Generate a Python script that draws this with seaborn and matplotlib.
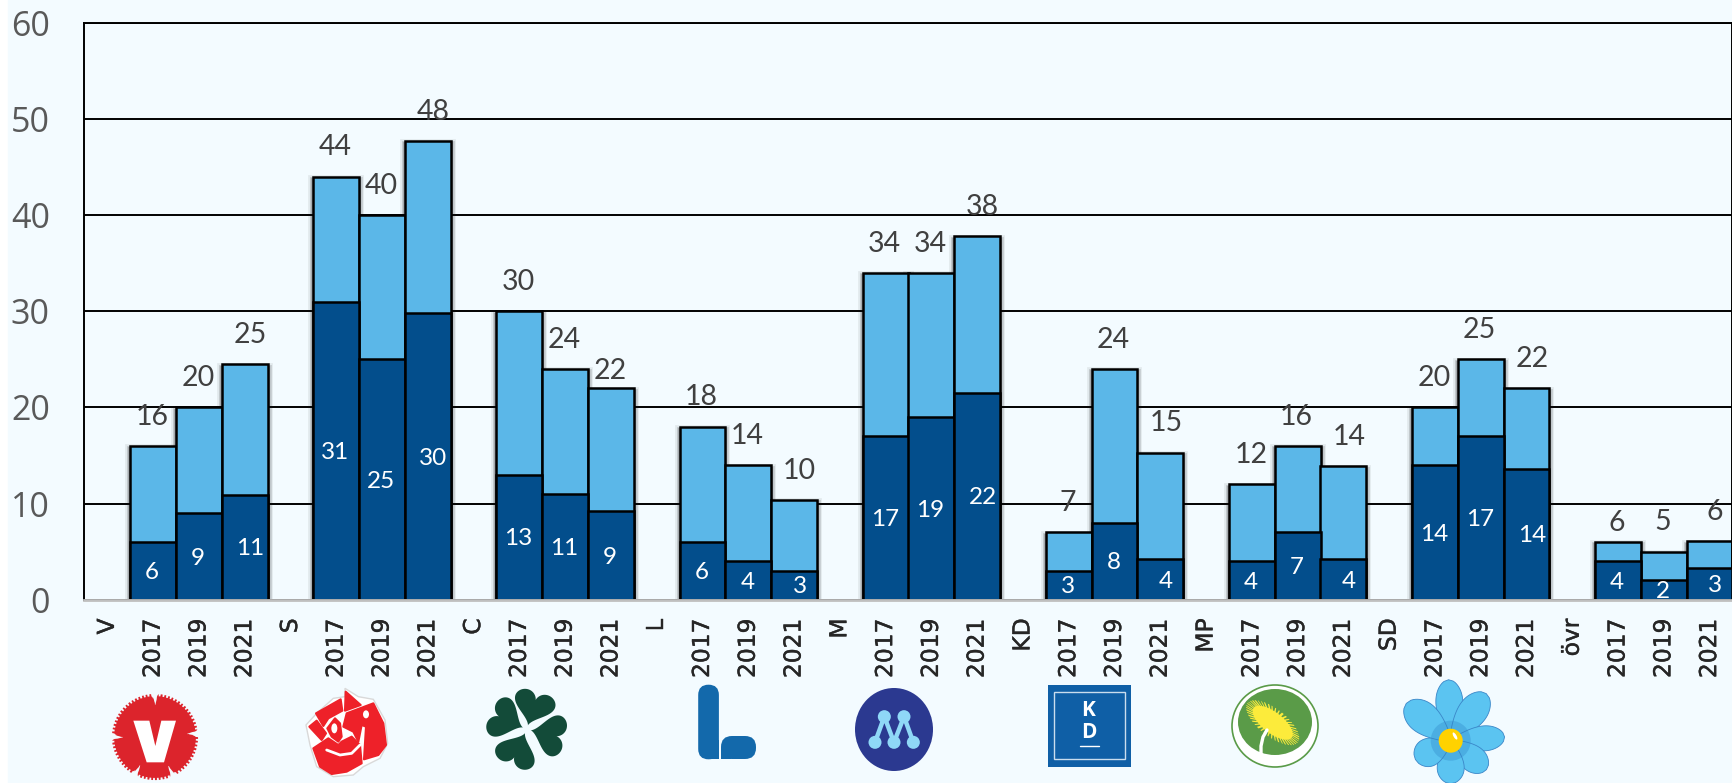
import numpy as np
import pandas as pd
import seaborn as sns
import matplotlib
matplotlib.use("Agg")
import matplotlib.pyplot as plt
import matplotlib.patheffects as pe
from matplotlib.patches import Rectangle, Polygon, Circle, Ellipse, FancyBboxPatch

# data
parties = ["V", "S", "C", "L", "M", "KD", "MP", "SD", "övr"]
years = ["2017", "2019", "2021"]
total_values = [16, 20, 24.5, 44, 40, 47.7, 30, 24, 22, 18, 14, 10.4, 34, 34, 37.8,
                7, 24, 15.3, 12, 16, 13.9, 20, 25, 22, 6, 5, 6.1]
dark_values = [6, 9, 10.9, 31, 25, 29.8, 13, 11, 9.2, 6, 4, 3, 17, 19, 21.5,
               3, 8, 4.2, 4, 7, 4.2, 14, 17, 13.6, 4, 2, 3.3]
total_labels = [16, 20, 25, 44, 40, 48, 30, 24, 22, 18, 14, 10, 34, 34, 38,
                7, 24, 15, 12, 16, 14, 20, 25, 22, 6, 5, 6]
dark_labels = [6, 9, 11, 31, 25, 30, 13, 11, 9, 6, 4, 3, 17, 19, 22,
               3, 8, 4, 4, 7, 4, 14, 17, 14, 4, 2, 3]
y_ticks = [0, 10, 20, 30, 40, 50, 60]

BG = "#F3FBFF"
LIGHT = "#5BB7E8"
DARK = "#034E8C"

sns.set_theme(style="white")
plt.rcParams["font.family"] = ["DejaVu Sans"]

# one slot for the party name and three for its years
tick_labels = []
slots = []
for p in parties:
    tick_labels += [p] + years
    slots += [len(tick_labels) - 3, len(tick_labels) - 2, len(tick_labels) - 1]
all_slots = list(range(len(tick_labels)))
df = pd.DataFrame({"slot": slots, "total": total_values, "dark": dark_values})

fig = plt.figure(figsize=(17.33, 7.83), dpi=100, facecolor="white")
fig.patches.append(Rectangle((8 / 1733, 0), 1, 1, transform=fig.transFigure, color=BG, zorder=-5))

ax = fig.add_axes([84.5 / 1733, 1 - 599.7 / 783, 1648 / 1733, 577 / 783])
ax.set_facecolor(BG)

# shadow layer under the bars, only shows at the sides
sns.barplot(data=df, x="slot", y="total", order=all_slots, color=LIGHT, saturation=1,
            width=1, errorbar=None, ax=ax, zorder=1)
for bar in ax.patches:
    bar.set_path_effects([pe.Stroke(offset=(0, -2.5), linewidth=7, foreground="k", alpha=0.08),
                          pe.Stroke(offset=(0, -2.5), linewidth=5, foreground="k", alpha=0.12),
                          pe.Stroke(offset=(0, -2.5), linewidth=3.2, foreground="k", alpha=0.2)])
sns.barplot(data=df, x="slot", y="total", order=all_slots, color=LIGHT, saturation=1, width=1,
            errorbar=None, edgecolor="black", linewidth=1.8, ax=ax, zorder=2)
sns.barplot(data=df, x="slot", y="dark", order=all_slots, color=DARK, saturation=1, width=1,
            errorbar=None, edgecolor="black", linewidth=1.8, ax=ax, zorder=3)

ax.set_xlim(-0.5, len(all_slots) - 0.5)
ax.set_ylim(0, 60)
ax.set_xlabel("")
ax.set_ylabel("")
ax.set_axisbelow(True)
ax.yaxis.grid(True, color="black", linewidth=1.4)
ax.xaxis.grid(False)
for name in ["top", "left", "right"]:
    ax.spines[name].set_color("black")
    ax.spines[name].set_linewidth(1.4)
ax.spines["bottom"].set_color("#BFBFBF")
ax.spines["bottom"].set_linewidth(2)
ax.spines["bottom"].set_zorder(6)

ax.set_yticks(y_ticks)
ax.set_yticklabels(y_ticks, fontsize=24.5, color="#595959", fontfamily="Open Sans")
ax.set_xticks(all_slots)
ax.set_xticklabels(tick_labels, rotation=90, fontsize=16.8, color="#262626", va="top", ha="center")
for lab in ax.get_xticklabels():
    lab.set_path_effects([pe.withStroke(linewidth=0.3, foreground="#262626")])
ax.tick_params(axis="y", length=0, pad=25)
ax.tick_params(axis="x", length=0, pad=13.5)

# labels, the 2021 ones sit a bit to the right in the original
for i, s in enumerate(slots):
    dx = 4 if i % 3 == 2 else -0.7
    dy = 21
    if i == 8:  # 22 for C 2021 is pushed down and not shifted
        dx, dy = -0.7, 12
    if i == 24:  # first övr label
        dy = 13.5
    ax.annotate(str(total_labels[i]), (s, total_values[i]), xytext=(dx, dy), textcoords="offset points",
                ha="center", va="center", fontsize=20.5, color="#404040", fontfamily="Lato", zorder=7)
    ax.annotate(str(dark_labels[i]), (s, dark_values[i] / 2), xytext=(dx, -1.2), textcoords="offset points",
                ha="center", va="center", fontsize=17.5, color="white", fontfamily="Lato", zorder=7)

# party logos, pixel coordinates of the picture
lg = fig.add_axes([0, 0, 1, 1], zorder=10)
lg.set_xlim(0, 1733)
lg.set_ylim(783, 0)
lg.axis("off")
lg.patch.set_alpha(0)


def zoomed(points, ox, oy):
    return [(ox + x / 3, oy + y / 3) for x, y in points]


# V carnation
red = "#DC242C"
t = np.linspace(0, 2 * np.pi, 1441)
r = 42 + 1.1 * np.sign(np.sin(70 * t))
for a in [-90, -5, 65, 118, 180]:
    d = np.angle(np.exp(1j * (t - np.radians(a))))
    r = r - 9 * np.exp(-(d / 0.045) ** 2)
lg.add_patch(Polygon(np.c_[155 + r * np.cos(t), 737 + r * np.sin(t)], color=red, lw=0))
lg.add_patch(Polygon(zoomed([(130, 152), (178, 152), (196, 228), (214, 152), (258, 152),
                             (222, 277), (170, 277)], 90, 670), color="white", lw=0))

# S rose
rose = "#EE2129"
lg.add_patch(Polygon(zoomed([(765, 55), (805, 80), (850, 88), (885, 150), (893, 220), (870, 265), (820, 290),
                             (790, 315), (730, 320), (680, 290), (660, 225), (648, 165), (680, 130),
                             (730, 85), (765, 80)], 90, 670), fc="white", ec="#D9D9D9", lw=1))
for piece in [[(678, 130), (752, 88), (757, 122), (715, 145), (700, 168)],
              [(767, 65), (812, 105), (765, 122)],
              [(770, 130), (850, 100), (880, 160), (888, 225), (865, 255), (822, 268), (828, 170), (815, 165),
               (805, 215), (790, 185), (760, 170)],
              [(658, 170), (680, 152), (708, 190), (695, 210)],
              [(670, 235), (715, 205), (745, 225), (755, 215), (785, 200), (810, 225), (815, 280), (770, 305),
               (725, 312), (690, 290)],
              [(712, 175), (735, 145), (750, 160), (755, 200), (745, 215), (725, 200)]]:
    lg.add_patch(Polygon(zoomed(piece, 90, 670), fc=rose, ec=rose, lw=1.5, joinstyle="round"))
lg.add_patch(Ellipse((90 + 733 / 3, 670 + 175 / 3), 6, 10, color="white", lw=0))
lg.add_patch(Ellipse((90 + 828 / 3, 670 + 133 / 3), 6, 8, color="white", lw=0))
xs, ys = zip(*zoomed([(710, 240), (750, 255), (785, 250), (810, 225)], 90, 670))
lg.plot(xs, ys, color="white", lw=2)

# C clover
t = np.linspace(0, 2 * np.pi, 200)
hx = 16 * np.sin(t) ** 3 * 1.3
hy = (13 * np.cos(t) - 5 * np.cos(2 * t) - 2 * np.cos(3 * t) - np.cos(4 * t) + 17) * 1.2 + 4
for a in [17, 103, 204, 295]:
    c, s = np.cos(np.radians(a)), np.sin(np.radians(a))
    lg.add_patch(Polygon(np.c_[526.7 + hx * c + hy * s, 729.3 + hx * s - hy * c], color="#134B39", lw=0))

# L
blue = "#1369AB"
lg.add_patch(FancyBboxPatch((708.5, 695), 0.1, 54, boxstyle="round,pad=10.3", color=blue, lw=0))
lg.add_patch(Rectangle((710, 740), 9, 19, color=blue, lw=0))
lg.add_patch(FancyBboxPatch((732, 747), 13, 1, boxstyle="round,pad=11", color=blue, lw=0))
lg.add_patch(Rectangle((721, 748), 10, 11, color=blue, lw=0))

# M
lg.add_patch(Ellipse((894, 729.5), 78, 83, color="#2B3990", lw=0))
mx, my = zip(*zoomed([(135, 217), (163, 140), (192, 217), (222, 140), (250, 217)], 830, 670))
lg.plot(mx, my, color="#8FD8F7", lw=3.2)
for x, y in zip(mx, my):
    lg.add_patch(Circle((x, y), 6.5, color="#8FD8F7", lw=0))

# KD
lg.add_patch(Rectangle((1048, 685), 83, 82, color="#0F5FA6", lw=0))
lg.add_patch(Rectangle((1054, 691.5), 71.5, 67.5, fc="none", ec="#C9DDEE", lw=1))
lg.text(1088.5, 711, "K", color="white", fontsize=15, fontweight="bold", fontfamily="Open Sans", ha="center", va="center")
lg.text(1089, 732, "D", color="white", fontsize=15, fontweight="bold", fontfamily="Open Sans", ha="center", va="center")
lg.plot([1080, 1099], [746, 746], color="white", lw=1)

# MP
lg.add_patch(Ellipse((1275, 726), 86, 82, fc="white", ec="#5A9B48", lw=1.2))
lg.add_patch(Ellipse((1275, 722), 74, 66, color="#5A9B48", lw=0))
t = np.linspace(0, 2 * np.pi, 361)
rr = 1 + 0.14 * np.sign(np.sin(45 * t))
ex = 28 * rr * np.cos(t)
ey = 12 * rr * np.sin(t)
ang = np.radians(38)
lg.add_patch(Polygon(np.c_[1272.7 + ex * np.cos(ang) - ey * np.sin(ang), 722.7 + ex * np.sin(ang) + ey * np.cos(ang)],
                     color="#FCEB3B", lw=0))
lg.plot([1267, 1263, 1261, 1261], [730, 737, 746, 755], color="white", lw=2.4)

# SD flower
petal_angles = [92, 53, 4, -39, -90, 208, 140]
petal_lengths = [61, 59, 54, 46, 43, 40, 58]
petal_widths = [27, 29, 25, 26, 27, 28, 31]
u = np.linspace(0, 1, 40)
for a, ln, w in zip(petal_angles, petal_lengths, petal_widths):
    side = w / 2 * np.sin(np.pi * u ** 1.5) ** 0.5
    lx = np.r_[ln * u, ln * u[::-1]]
    ly = np.r_[side, -side[::-1]]
    ca, sa = np.cos(np.radians(a)), np.sin(np.radians(a))
    lg.add_patch(Polygon(np.c_[1450.7 + lx * ca - ly * sa, 740.7 - lx * sa - ly * ca],
                         fc="#5BC4F1", ec="#3A86C8", lw=0.6))
lg.add_patch(Circle((1450.7, 740.7), 20, color="#2E86C8", alpha=0.35, lw=0))
lg.add_patch(Circle((1450.7, 740.7), 12, color="#FFD200", lw=0))
lg.add_patch(Ellipse((1455, 736), 3, 8, angle=-30, color="white", lw=0))

fig.savefig("out.png", dpi=100, facecolor=fig.get_facecolor())
